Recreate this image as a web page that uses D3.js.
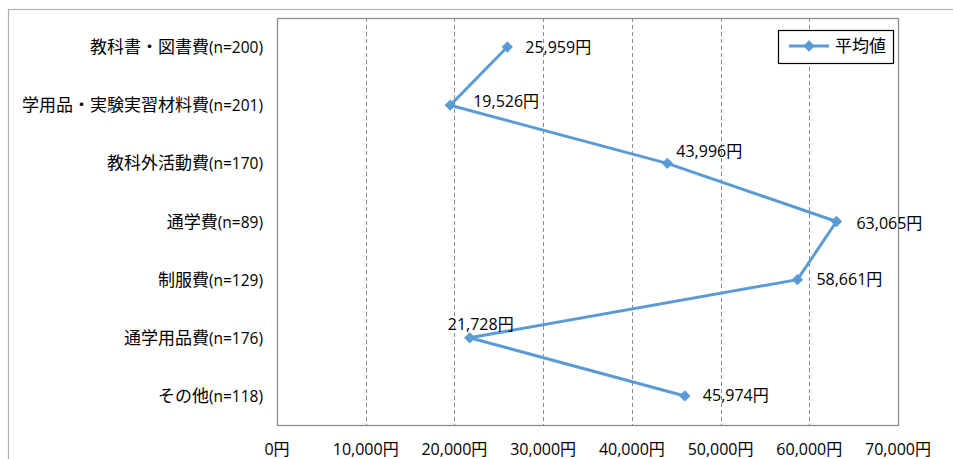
<!DOCTYPE html>
<html>
<head>
<meta charset="utf-8">
<script src="https://cdn.jsdelivr.net/npm/d3@7"></script>
<style>
  body { margin: 0; background: #fff; }
  svg { display: block; }
</style>
</head>
<body>
<div class="chart"></div>
<script>
// Data
var categories = ["教科書・図書費", "学用品・実験実習材料費", "教科外活動費", "通学費", "制服費", "通学用品費", "その他"];
var counts = [200, 201, 170, 89, 129, 176, 118];
var averages = [25959, 19526, 43996, 63065, 58661, 21728, 45974];
var xTicks = [0, 10000, 20000, 30000, 40000, 50000, 60000, 70000];
var seriesName = "平均値";

// label placement per point: [dx, dy]
var labelPos = [[18, 0], [23, -4], [9, -12], [20, 1], [19, -1], [-22, -14], [18, -1]];

var width = 953, height = 459;
var plotLeft = 277, plotRight = 898, plotTop = 18, plotBottom = 425;
var lineColor = "#5b9bd5";
var font = "'Open Sans', 'Noto Sans CJK JP', sans-serif";

var svg = d3.select(".chart").append("svg")
    .attr("width", width)
    .attr("height", height);

// outer chart border
svg.append("rect")
    .attr("x", 8.5).attr("y", 9.5)
    .attr("width", 960).attr("height", 470)
    .attr("fill", "none")
    .attr("stroke", "#b0b0b0")
    .attr("stroke-width", 1.2);

var x = d3.scaleLinear()
    .domain([0, 70000])
    .range([plotLeft, plotRight]);

var y = d3.scaleBand()
    .domain(categories)
    .range([plotTop, plotBottom]);

// dashed gridlines
svg.append("g").selectAll("line")
    .data(xTicks.slice(1, -1))
    .enter().append("line")
    .attr("x1", d => Math.round(x(d)) + 0.5)
    .attr("x2", d => Math.round(x(d)) + 0.5)
    .attr("y1", plotTop).attr("y2", plotBottom)
    .attr("stroke", "#8c8c8c")
    .attr("stroke-dasharray", "4,3");

// plot area border
svg.append("rect")
    .attr("x", plotLeft + 0.5).attr("y", plotTop + 0.5)
    .attr("width", plotRight - plotLeft).attr("height", plotBottom - plotTop)
    .attr("fill", "none")
    .attr("stroke", "#8c8c8c")
    .attr("stroke-width", 1.3);

// x tick labels
svg.append("g").selectAll("text")
    .data(xTicks)
    .enter().append("text")
    .attr("x", d => x(d))
    .attr("y", 455)
    .attr("text-anchor", "middle")
    .style("font-family", font)
    .style("font-size", "16px")
    .attr("fill", "#000")
    .text(d => d3.format(",")(d) + "円");

// category labels
var cat = svg.append("g").selectAll("text")
    .data(categories)
    .enter().append("text")
    .attr("x", plotLeft - 14)
    .attr("y", d => y(d) + y.bandwidth() / 2 + 6)
    .attr("text-anchor", "end")
    .style("font-family", font)
    .style("font-size", "17px")
    .attr("fill", "#000");
cat.append("tspan").text(d => d);
cat.append("tspan")
    .style("font-size", "15.5px")
    .text((d, i) => "(n=" + counts[i] + ")");

// line
var cy = (d, i) => y(categories[i]) + y.bandwidth() / 2;
var line = d3.line()
    .x(d => x(d))
    .y(cy);

svg.append("path")
    .datum(averages)
    .attr("d", line)
    .attr("fill", "none")
    .attr("stroke", lineColor)
    .attr("stroke-width", 3)
    .attr("stroke-linejoin", "round");

var marker = d3.symbol().type(d3.symbolSquare).size(64);

svg.append("g").selectAll("path")
    .data(averages)
    .enter().append("path")
    .attr("d", marker)
    .attr("transform", (d, i) => "translate(" + x(d) + "," + cy(d, i) + ") rotate(45)")
    .attr("fill", lineColor);

// data labels
svg.append("g").selectAll("text")
    .data(averages)
    .enter().append("text")
    .attr("x", (d, i) => x(d) + labelPos[i][0])
    .attr("y", (d, i) => cy(d, i) + labelPos[i][1] + 6)
    .style("font-family", font)
    .style("font-size", "16px")
    .attr("fill", "#000")
    .text(d => d3.format(",")(d) + "円");

// legend
var legend = svg.append("g").attr("transform", "translate(778,30)");
legend.append("rect")
    .attr("x", 0.5).attr("y", 0.5)
    .attr("width", 115).attr("height", 33)
    .attr("fill", "#fff")
    .attr("stroke", "#000")
    .attr("stroke-width", 1.2);
legend.append("line")
    .attr("x1", 11).attr("x2", 51)
    .attr("y1", 16).attr("y2", 16)
    .attr("stroke", lineColor)
    .attr("stroke-width", 3);
legend.append("path")
    .attr("d", marker)
    .attr("transform", "translate(31,16) rotate(45)")
    .attr("fill", lineColor);
legend.append("text")
    .attr("x", 57).attr("y", 22)
    .style("font-family", font)
    .style("font-size", "17px")
    .text(seriesName);
</script>
</body>
</html>
